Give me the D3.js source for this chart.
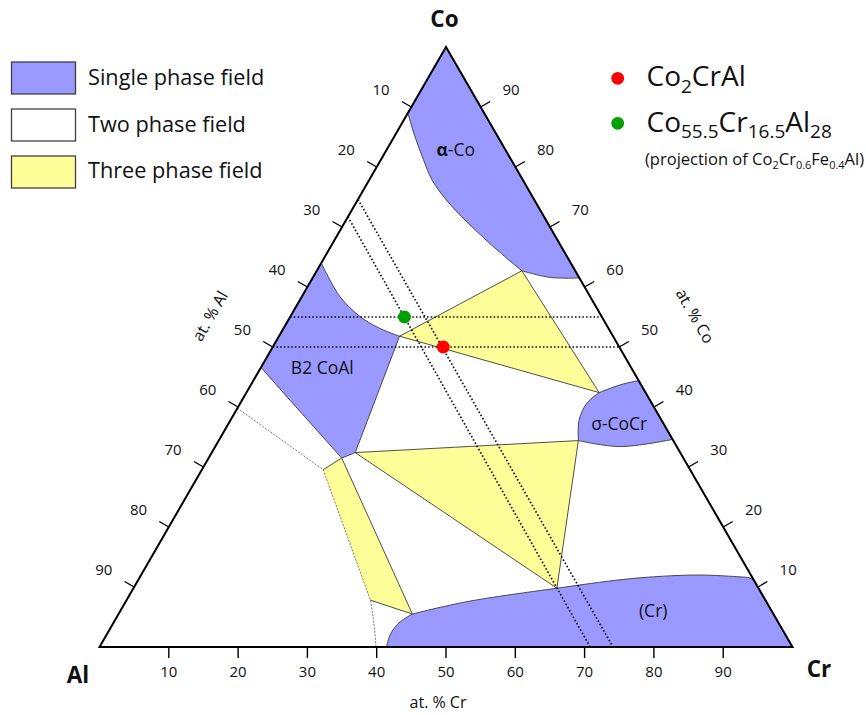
<!DOCTYPE html>
<html><head><meta charset="utf-8">
<script src="https://cdn.jsdelivr.net/npm/d3@7"></script>
<style>
body{margin:0;background:#fff}
svg{display:block}
text{font-family:"Open Sans",sans-serif;fill:#111}
</style>
</head><body>
<svg id="chart" width="866" height="715"></svg>
<script>
// ---------- DATA (compositions as [at.% Co, at.% Cr]; Al = 100 - Co - Cr) ----------
const tickValues = [10, 20, 30, 40, 50, 60, 70, 80, 90];
const vertexNames = ["Co", "Al", "Cr"];
const axisTitles = ["at. % Al", "at. % Co", "at. % Cr"];
const legendFields = ["Single phase field", "Two phase field", "Three phase field"];

// boundaries: each piece is a polyline; 2-point pieces are straight, longer ones are smooth curves
const alphaCo = [
  [[89, 0], [85.3, 2.8], [81.5, 5.9], [77.8, 9.1], [74.5, 12.8], [71.5, 16.7], [68.5, 20.9], [65.5, 25.3], [62.7, 29.6]],
  [[62.7, 29.6], [61.6, 34.2], [61.5, 38.5]],
  [[61.5, 38.5], [100, 0]],
  [[100, 0], [89, 0]]
];
const b2CoAl = [
  [[64, 0], [58.4, 5.5], [55.05, 10.1], [53.1, 13.9], [51.8, 17.4]],
  [[51.8, 17.4], [32.4, 20.7]],
  [[32.4, 20.7], [31.5, 19.2]],
  [[31.5, 19.2], [38.95, 9.7], [46.6, 0]],
  [[46.6, 0], [64, 0]]
];
const sigmaCoCr = [
  [[42.4, 50.9], [43.7, 53.3], [44.4, 55.6]],
  [[44.4, 55.6], [34.6, 65.4]],
  [[34.6, 65.4], [33.4, 58.4], [34.4, 51.9]],
  [[34.4, 51.9], [37.8, 50.3], [40.6, 50.0], [42.4, 50.9]]
];
const crPhase = [
  [[5.5, 42.4], [7.55, 49.2], [9.8, 61.1], [11.2, 69.5], [11.7, 74.1], [12, 80.6], [11.6, 87.8]],
  [[11.6, 87.8], [11.2, 88.8]],
  [[11.2, 88.8], [0, 100]],
  [[0, 100], [0, 41.4]],
  [[0, 41.4], [2.3, 40.9], [4.2, 41.3], [5.5, 42.4]]
];
const singlePhases = [alphaCo, b2CoAl, sigmaCoCr, crPhase];

const upperTriangle = [[62.7, 29.6], [51.8, 17.4], [42.4, 50.9]];
const lowerTriangle = [[32.4, 20.7], [34.4, 51.9], [9.8, 61.1]];
const leftStrip = [[29.55, 17.5], [31.5, 19.2], [5.5, 42.4], [7.8, 35.2]];
const threePhases = [upperTriangle, lowerTriangle];

const dashedBoundary = [[39.8, 0], [29.55, 17.5], [7.8, 35.2], [5.6, 36.6], [2.8, 38.3], [0, 39.9]];

const dottedLines = [
  [[55, 0], [55, 45]],
  [[50, 0], [50, 50]],
  [[71.7, 0], [0, 70.8]],
  [[74.6, 0], [0, 74.1]]
];

const alloyNames = ["Co2CrAl", "Co55.5Cr16.5Al28"];
const alloyPoints = [[50, 24.6], [55, 16.5]];

const regionLabels = ["α-Co", "B2 CoAl", "σ-CoCr", "(Cr)"];
const regionLabelPos = [[82.8, 10.0], [46.5, 8.9], [37.2, 56.4], [6, 76.9]];

// ---------- GEOMETRY ----------
const svg = d3.select("#chart");
const H = Math.sqrt(3) / 2;
const xS = d3.scaleLinear().domain([0, 1]).range([99.5, 792.5]);
const yS = d3.scaleLinear().domain([0, H]).range([647, 47]);
function P(d) { // d = [Co, Cr]
  const co = d[0] / 100, cr = d[1] / 100;
  return [xS(cr + co / 2), yS(co * H)];
}
const BLUE = "#9999ff", YELLOW = "#ffff99", EDGE = "#3a3a3a";

const lineLinear = d3.line().x(d => P(d)[0]).y(d => P(d)[1]);
const lineCurve = d3.line().x(d => P(d)[0]).y(d => P(d)[1]).curve(d3.curveCatmullRom.alpha(0.5));
function piecesPath(pieces, close) {
  let s = "";
  pieces.forEach((pc, i) => {
    let p = (pc.length > 2 ? lineCurve : lineLinear)(pc);
    if (i > 0) p = "L" + p.slice(1);
    s += p;
  });
  return s + (close ? "Z" : "");
}

// ---------- REGIONS ----------
const g = svg.append("g");
g.selectAll("path.single").data(singlePhases).join("path")
  .attr("class", "single")
  .attr("d", d => piecesPath(d, true))
  .attr("fill", BLUE).attr("stroke", EDGE).attr("stroke-width", 0.9);

g.selectAll("path.three").data(threePhases).join("path")
  .attr("class", "three")
  .attr("d", d => lineLinear(d) + "Z")
  .attr("fill", YELLOW).attr("stroke", EDGE).attr("stroke-width", 0.9);

g.append("path").attr("d", lineLinear(leftStrip) + "Z").attr("fill", YELLOW).attr("stroke", "none");
g.append("path").attr("d", lineLinear(leftStrip)).attr("fill", "none").attr("stroke", EDGE).attr("stroke-width", 0.9);

g.append("path")
  .attr("d", piecesPath([dashedBoundary.slice(0, 2), dashedBoundary.slice(1, 3), dashedBoundary.slice(2)], false))
  .attr("fill", "none").attr("stroke", "#555").attr("stroke-width", 0.8).attr("stroke-dasharray", "2,1.4");

// dotted guide lines
g.selectAll("path.dot").data(dottedLines).join("path")
  .attr("class", "dot")
  .attr("d", d => lineLinear(d))
  .attr("fill", "none").attr("stroke", "#111").attr("stroke-width", 1.7).attr("stroke-dasharray", "1.6,2.1");

// triangle frame
const corners = [[100, 0], [0, 0], [0, 100]];
svg.append("path").attr("d", lineLinear(corners) + "Z")
  .attr("fill", "none").attr("stroke", "#000").attr("stroke-width", 2).attr("stroke-linejoin", "miter");

// ---------- TICKS ----------
const c30 = Math.cos(Math.PI / 6), s30 = 0.5;
const axes = [
  { pos: v => [100 - v, 0], dir: [-c30, -s30], lab: 35 },  // left: at.% Al
  { pos: v => [v, 100 - v], dir: [c30, -s30], lab: 35 },   // right: at.% Co
  { pos: v => [0, v], dir: [0, 1], lab: 24.5 }              // bottom: at.% Cr
];
axes.forEach(ax => {
  const tg = svg.append("g");
  tg.selectAll("line").data(tickValues).join("line")
    .attr("x1", v => P(ax.pos(v))[0]).attr("y1", v => P(ax.pos(v))[1])
    .attr("x2", v => P(ax.pos(v))[0] + ax.dir[0] * 11).attr("y2", v => P(ax.pos(v))[1] + ax.dir[1] * 11)
    .attr("stroke", "#000").attr("stroke-width", 1.4);
  tg.selectAll("text").data(tickValues).join("text")
    .attr("x", v => P(ax.pos(v))[0] + ax.dir[0] * ax.lab)
    .attr("y", v => P(ax.pos(v))[1] + ax.dir[1] * ax.lab)
    .attr("dy", "0.36em").attr("text-anchor", "middle")
    .attr("font-size", 15).text(v => v);
});

// vertex labels
const vPos = [[444.5, 27], [78, 683], [819, 677]];
svg.selectAll("text.vert").data(vertexNames).join("text").attr("class", "vert")
  .attr("x", (d, i) => vPos[i][0]).attr("y", (d, i) => vPos[i][1])
  .attr("text-anchor", "middle").attr("font-size", 22.5).attr("font-weight", "bold").text(d => d);

// axis titles
const tPos = [[210, 316, -60], [695, 316, 60], [438, 702, 0]];
svg.selectAll("text.atitle").data(axisTitles).join("text").attr("class", "atitle")
  .attr("transform", (d, i) => `translate(${tPos[i][0]},${tPos[i][1]}) rotate(${tPos[i][2]})`)
  .attr("text-anchor", "middle").attr("dy", "0.35em").attr("font-size", 16).text(d => d);

// region labels
svg.selectAll("text.rl").data(regionLabels).join("text").attr("class", "rl")
  .attr("x", (d, i) => P(regionLabelPos[i])[0]).attr("y", (d, i) => P(regionLabelPos[i])[1])
  .attr("dy", "0.35em").attr("text-anchor", "middle").attr("font-size", 17.5)
  .each(function (d) {
    const t = d3.select(this);
    if (d[0] === "α") {
      t.append("tspan").attr("font-weight", "bold").text("α");
      t.append("tspan").text(d.slice(1));
    } else t.text(d);
  });

// alloy points
svg.selectAll("circle.pt").data(alloyPoints).join("circle").attr("class", "pt")
  .attr("cx", d => P(d)[0]).attr("cy", d => P(d)[1]).attr("r", 6.5)
  .attr("fill", (d, i) => i === 0 ? "#ff0000" : "#00a000");

// ---------- LEGENDS ----------
const legendColors = [BLUE, "#ffffff", YELLOW];
const lg = svg.append("g");
lg.selectAll("rect").data(legendFields).join("rect")
  .attr("x", 11.5).attr("y", (d, i) => 62 + i * 47).attr("width", 64).attr("height", 32)
  .attr("fill", (d, i) => legendColors[i]).attr("stroke", "#404040").attr("stroke-width", 1.3);
lg.selectAll("text").data(legendFields).join("text")
  .attr("x", 88).attr("y", (d, i) => 85 + i * 46.7).attr("font-size", 21.7).text(d => d);

function rich(sel, parts, size, sub) {
  parts.forEach(p => {
    if (p[1]) sel.append("tspan").attr("font-size", sub).attr("dy", size * 0.24).text(p[0]);
    else sel.append("tspan").attr("font-size", size).attr("dy", p[2] ? -size * 0.24 : 0).text(p[0]);
  });
}
const alloyParts = [
  [["Co"], ["2", 1], ["CrAl", 0, 1]],
  [["Co"], ["55.5", 1], ["Cr", 0, 1], ["16.5", 1], ["Al", 0, 1], ["28", 1]]
];
const rl = svg.append("g");
rl.selectAll("circle").data(alloyNames).join("circle")
  .attr("cx", 617.7).attr("cy", (d, i) => 78.3 + i * 45).attr("r", 6.4)
  .attr("fill", (d, i) => i === 0 ? "#ff0000" : "#00a000");
rl.selectAll("text").data(alloyNames).join("text")
  .attr("x", 646.5).attr("y", (d, i) => 86 + i * 45.7)
  .each(function (d, i) { rich(d3.select(this), alloyParts[i], 28, 19); });
const proj = rl.append("text").attr("x", 645).attr("y", 165);
rich(proj, [["(projection of Co"], ["2", 1], ["Cr", 0, 1], ["0.6", 1], ["Fe", 0, 1], ["0.4", 1], ["Al)", 0, 1]], 16.5, 11);
</script>
</body></html>
